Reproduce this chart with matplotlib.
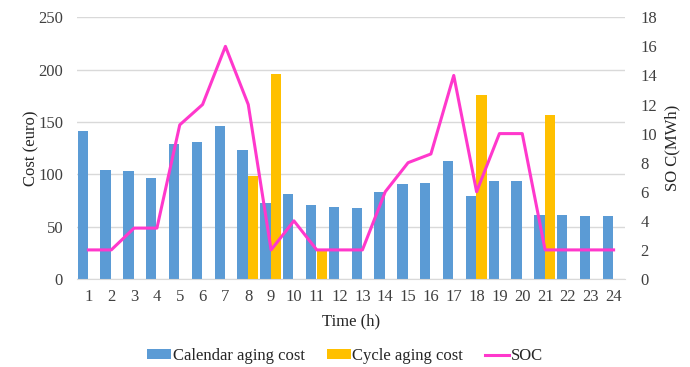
import matplotlib
matplotlib.use("Agg")
import matplotlib.pyplot as plt
import numpy as np

hours = list(range(1, 25))
calendar_cost = [141, 104, 103, 96, 129, 131, 146, 123, 73, 81, 71, 69, 68, 83,
                 91, 92, 113, 79, 94, 94, 61, 61, 60, 60]
cycle_cost = [0, 0, 0, 0, 0, 0, 0, 98, 196, 0, 28, 0, 0, 0,
              0, 0, 0, 176, 0, 0, 157, 0, 0, 0]
soc = [2, 2, 3.5, 3.5, 10.6, 12, 16, 12, 2, 4, 2, 2, 2, 6,
       8, 8.6, 14, 6, 10, 10, 2, 2, 2, 2]

plt.rcParams['font.family'] = ['Liberation Serif', 'DejaVu Serif']
plt.rcParams['font.size'] = 12

fig = plt.figure(figsize=(6.9, 3.67), dpi=100)
ax = fig.add_axes([0.1116, 0.2398, 0.7942, 0.7131])
x = np.array(hours)
w = 0.45
b1 = ax.bar(x - 0.25, calendar_cost, width=w, color='#5B9BD5', label='Calendar aging cost', zorder=2)
b2 = ax.bar(x + 0.22, cycle_cost, width=w, color='#FFC000', label='Cycle aging cost', zorder=2)
ax.set_xlim(0.5, 24.5)
ax.set_ylim(0, 250)
ax.set_yticks(range(0, 251, 50))
ax.set_xticks(hours)
ax.set_xticklabels([str(h) for h in hours])
ax.grid(axis='y', color='#D9D9D9', linewidth=1, zorder=0)
ax.set_axisbelow(True)
for s in ['top', 'right', 'left']:
    ax.spines[s].set_visible(False)
ax.spines['bottom'].set_color('#D9D9D9')
ax.tick_params(length=0, colors='#404040', labelsize=12)
ax.tick_params(axis='y', pad=10)
ax.tick_params(axis='x', pad=7)
ax.set_ylabel('Cost (euro)', fontsize=12, color='#262626', labelpad=-1)
ax.set_xlabel('Time (h)', fontsize=12, color='#262626', labelpad=6)

ax2 = ax.twinx()
l1, = ax2.plot(x, soc, color='#FF38CC', linewidth=2.2, label='SOC', zorder=3)
ax2.set_ylim(0, 18)
ax2.set_yticks(range(0, 19, 2))
for s in ['top', 'right', 'left', 'bottom']:
    ax2.spines[s].set_visible(False)
ax2.tick_params(length=0, colors='#404040', labelsize=12, pad=11)
ax2.set_ylabel('SO C(MWh)', fontsize=12, color='#262626', labelpad=5)

fig.legend(handles=[b1, b2, l1], labels=['Calendar aging cost', 'Cycle aging cost', 'SOC'],
           loc='center', bbox_to_anchor=(0.5, 0.03), ncol=3, frameon=False,
           fontsize=12, handlelength=1.45, handleheight=0.55, columnspacing=1.3,
           handletextpad=0.1, labelcolor='#262626')

fig.savefig('out.png', dpi=100)
